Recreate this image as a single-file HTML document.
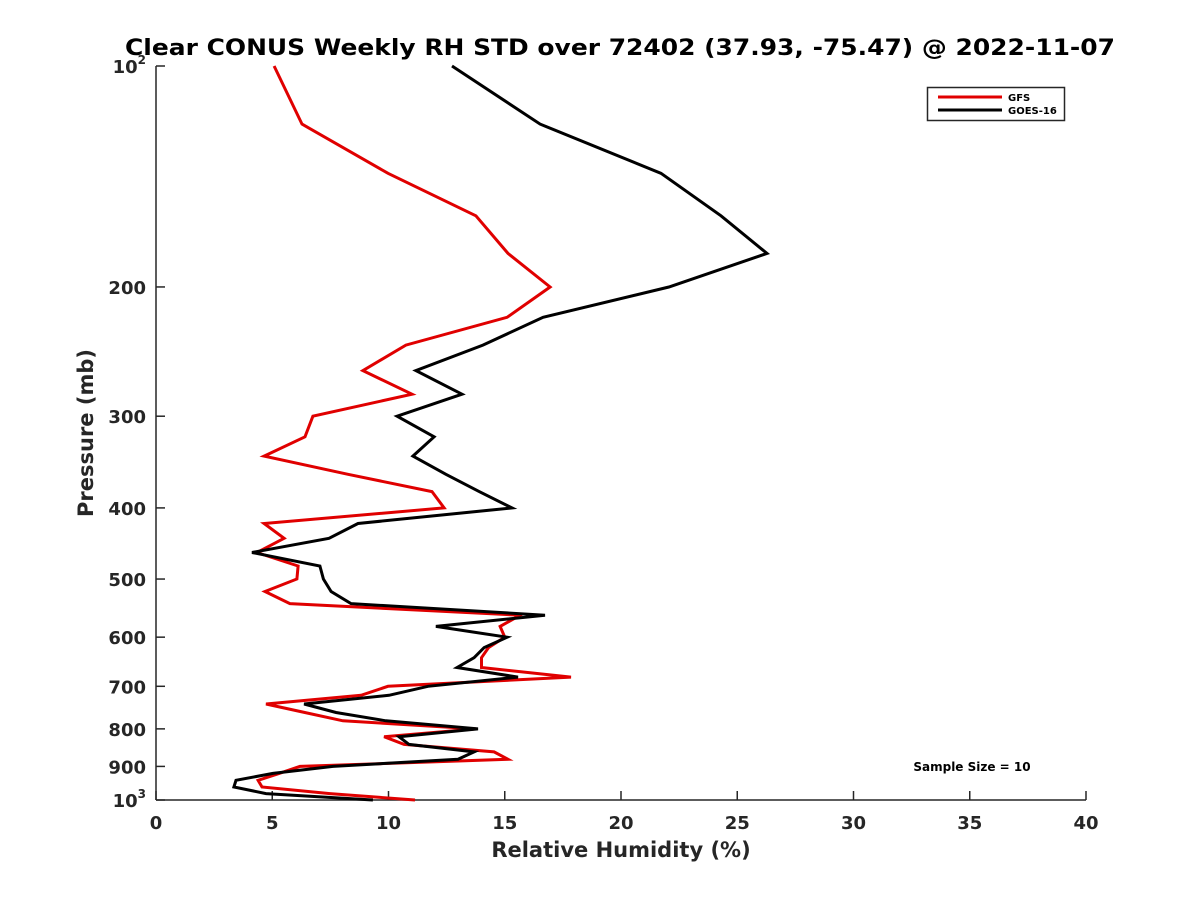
<!DOCTYPE html>
<html><head><meta charset="utf-8"><style>
body{margin:0;background:#fff;}
svg{display:block;font-family:"DejaVu Sans","Liberation Sans",sans-serif;font-weight:bold;}
</style></head><body>
<svg id="chart" width="1200" height="900" viewBox="0 0 1200 900" xmlns="http://www.w3.org/2000/svg">
<rect width="1200" height="900" fill="#fff"/>
<text x="620" y="55" text-anchor="middle" font-size="22" fill="#000" textLength="990" lengthAdjust="spacingAndGlyphs">Clear CONUS Weekly RH STD over 72402 (37.93, -75.47) @ 2022-11-07</text>
<g id="axes"></g>
<g id="series"></g>
<text x="621" y="857" text-anchor="middle" font-size="21" fill="#262626">Relative Humidity (%)</text>
<text transform="translate(93,433) rotate(-90)" text-anchor="middle" font-size="21" fill="#262626">Pressure (mb)</text>
<g>
<rect x="927.5" y="87.5" width="137" height="33" fill="#fff" stroke="#262626" stroke-width="1.5"/>
<line x1="938" y1="97" x2="1002" y2="97" stroke="#e00000" stroke-width="3"/>
<text x="1008" y="101" font-size="10" fill="#000">GFS</text>
<line x1="938" y1="110" x2="1002" y2="110" stroke="#000" stroke-width="3"/>
<text x="1008" y="114" font-size="10" fill="#000">GOES-16</text>
</g>
<text x="972" y="771" text-anchor="middle" font-size="12" fill="#000">Sample Size = 10</text>
</svg>
<script>
const levels=[100,120,140,160,180,200,220,240,260,280,300,320,340,360,380,400,420,440,460,480,500,520,540,560,580,600,620,640,660,680,700,720,740,760,780,800,820,840,860,880,900,920,940,960,980,1000];
const gfs=[5.08,6.28,9.98,13.76,15.14,16.95,15.10,10.75,8.90,11.01,6.75,6.41,4.65,8.26,11.87,12.39,4.65,5.51,4.34,6.11,6.06,4.69,5.76,15.66,14.8,15.0,14.3,14.0,14.0,17.85,9.98,8.82,4.73,6.4,8.04,13.76,9.81,10.67,14.54,15.14,6.19,5.3,4.39,4.56,7.48,11.14];
const goes=[12.73,16.52,21.72,24.30,26.28,22.06,16.65,14.06,11.18,13.16,10.37,11.96,11.05,12.47,13.9,15.31,8.69,7.44,4.13,7.05,7.2,7.53,8.39,16.73,12.04,15.10,14.11,13.68,12.95,15.57,11.70,10.02,6.37,7.74,9.89,13.85,10.45,10.88,13.68,12.99,7.61,5.03,3.44,3.35,4.73,9.33];
const xTicks=[0,5,10,15,20,25,30,35,40];
const yTicks=[100,200,300,400,500,600,700,800,900,1000];
const yTickLabels=["10^2","200","300","400","500","600","700","800","900","10^3"];
const NS="http://www.w3.org/2000/svg";
const X0=156,X1=1086,Y0=66,Y1=800;
function xs(v){return X0+(v/40)*(X1-X0);}
function ys(p){return Y0+(Math.log10(p)-2)*(Y1-Y0);}
function mk(t,a){const e=document.createElementNS(NS,t);for(const k in a)e.setAttribute(k,a[k]);return e;}
const axes=document.getElementById('axes');
const yAxis=mk('line',{x1:X0,y1:Y0,x2:X0,y2:Y1,stroke:'#262626','stroke-width':1.5});


axes.appendChild(yAxis);
const xAxis=mk('line',{x1:X0,y1:Y1,x2:X1,y2:Y1,stroke:'#262626','stroke-width':1.5});


axes.appendChild(xAxis);
xTicks.forEach(v=>{
 const x=xs(v);
 const t=mk('line',{x1:x,y1:Y1,x2:x,y2:Y1-9,stroke:'#262626','stroke-width':1.5});
 
 
 axes.appendChild(t);
 const l=mk('text',{x:x,y:Y1+29,'text-anchor':'middle','font-size':18,fill:'#262626'});
 l.textContent=v;
 
 
 axes.appendChild(l);
});
yTicks.forEach((p,i)=>{
 const y=ys(p);
 const t=mk('line',{x1:X0,y1:y,x2:X0+9,y2:y,stroke:'#262626','stroke-width':1.5});
 
 
 axes.appendChild(t);
 const lab=yTickLabels[i];
 const l=mk('text',{x:X0-10,y:y+7,'text-anchor':'end','font-size':18,fill:'#262626'});
 if(lab.indexOf('^')>=0){
  const parts=lab.split('^');
  const b=mk('tspan',{});b.textContent=parts[0];l.appendChild(b);
  const s=mk('tspan',{dy:-9,'font-size':12});s.textContent=parts[1];l.appendChild(s);
 } else l.textContent=lab;
 
 
 axes.appendChild(l);
});
const sg=document.getElementById('series');
function drawLine(vals,color,name){
 const pts=vals.map((v,i)=>xs(v).toFixed(1)+','+ys(levels[i]).toFixed(1)).join(' ');
 const pl=mk('polyline',{points:pts,fill:'none',stroke:color,'stroke-width':3,'stroke-linejoin':'miter'});
 
 
 sg.appendChild(pl);
}
drawLine(gfs,'#e00000','gfs-line');
drawLine(goes,'#000000','goes16-line');
</script>
</body></html>
